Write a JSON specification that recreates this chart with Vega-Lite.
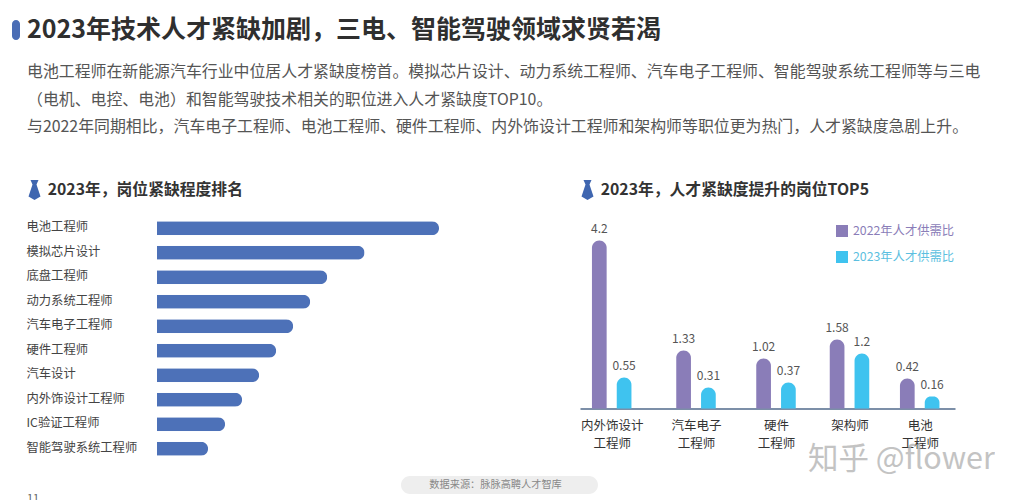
{
"$schema":"https://vega.github.io/schema/vega-lite/v6.json",
"background":"white",
"padding":{"left":12,"top":18,"right":0,"bottom":0},
"config":{"view":{"stroke":null},"font":"Noto Sans CJK SC","text":{"font":"Noto Sans CJK SC"}},
"bounds":"flush",
"columns":2,
"spacing":{"row":0,"column":141},
"concat":[
 {"width":412,"height":20,"data":{"values":[{"t":"2023年技术人才紧缺加剧，三电、智能驾驶领域求贤若渴"}]},
  "layer":[
   {"mark":{"type":"point","filled":true,"size":400,"fill":"#4a6db5","opacity":1,"xOffset":-11,"shape":"M-0.4,-0.6 A0.4,0.4 0 0 1 0.4,-0.6 L0.4,0.6 A0.4,0.4 0 0 1 -0.4,0.6 Z"},
    "encoding":{"x":{"datum":0,"type":"quantitative","scale":{"domain":[0,1]},"axis":null}}},
   {"mark":{"type":"text","align":"left","fontSize":25,"fontWeight":"bold","fill":"#2f2f2f"},
    "encoding":{"x":{"datum":0,"type":"quantitative","scale":{"domain":[0,1]},"axis":null},"text":{"field":"t"}}}
  ]},
 {"width":375,"height":38,"data":{"values":[{"blank":0}]},"mark":{"type":"point","opacity":0},"encoding":{}},
 {"width":412,"height":83,"data":{"values":[
   {"line":1,"t":"电池工程师在新能源汽车行业中位居人才紧缺度榜首。模拟芯片设计、动力系统工程师、汽车电子工程师、智能驾驶系统工程师等与三电"},
   {"line":2,"t":"（电机、电控、电池）和智能驾驶技术相关的职位进入人才紧缺度TOP10。"},
   {"line":3,"t":"与2022年同期相比，汽车电子工程师、电池工程师、硬件工程师、内外饰设计工程师和架构师等职位更为热门，人才紧缺度急剧上升。"}]},
  "mark":{"type":"text","align":"left","fontSize":15.9,"fill":"#555555"},
  "encoding":{"x":{"datum":0,"type":"quantitative","scale":{"domain":[0,1]},"axis":null},
   "y":{"field":"line","type":"ordinal","axis":null},"text":{"field":"t"}}},
 {"width":375,"height":122,"data":{"values":[{"blank":0}]},"mark":{"type":"point","opacity":0},"encoding":{}},
 {"width":412,"height":20,"data":{"values":[{"t":"2023年，岗位紧缺程度排名"}]},
  "layer":[
   {"mark":{"type":"point","filled":true,"size":400,"fill":"#3f66b0","opacity":1,"xOffset":7.5,"shape":"M-0.4,-1 L0.4,-1 L0.2,-0.55 L0.6,0.65 L0,1 L-0.6,0.65 L-0.2,-0.55 Z"},
    "encoding":{"x":{"datum":0,"type":"quantitative","scale":{"domain":[0,1]},"axis":null}}},
   {"mark":{"type":"text","align":"left","dx":20.7,"fontSize":15.8,"fontWeight":"bold","fill":"#333333"},
    "encoding":{"x":{"datum":0,"type":"quantitative","scale":{"domain":[0,1]},"axis":null},"text":{"field":"t"}}}
  ]},
 {"width":375,"height":20,"data":{"values":[{"t":"2023年，人才紧缺度提升的岗位TOP5"}]},
  "layer":[
   {"mark":{"type":"point","filled":true,"size":400,"fill":"#3f66b0","opacity":1,"xOffset":7.5,"shape":"M-0.4,-1 L0.4,-1 L0.2,-0.55 L0.6,0.65 L0,1 L-0.6,0.65 L-0.2,-0.55 Z"},
    "encoding":{"x":{"datum":0,"type":"quantitative","scale":{"domain":[0,1]},"axis":null}}},
   {"mark":{"type":"text","align":"left","dx":20.7,"fontSize":15.8,"fontWeight":"bold","fill":"#333333"},
    "encoding":{"x":{"datum":0,"type":"quantitative","scale":{"domain":[0,1]},"axis":null},"text":{"field":"t"}}}
  ]},
 {"width":412,"height":16,"data":{"values":[{"blank":0}]},"mark":{"type":"point","opacity":0},"encoding":{}},
 {"width":375,"height":16,"data":{"values":[{"blank":0}]},"mark":{"type":"point","opacity":0},"encoding":{}},
 {"width":412,"height":245,"data":{"values":[
   {"job":"电池工程师","score":281.7},{"job":"模拟芯片设计","score":207.3},{"job":"底盘工程师","score":170},{"job":"动力系统工程师","score":153},{"job":"汽车电子工程师","score":136},{"job":"硬件工程师","score":119},{"job":"汽车设计","score":102},{"job":"内外饰设计工程师","score":85},{"job":"IC验证工程师","score":68},{"job":"智能驾驶系统工程师","score":51}]},
  "mark":{"type":"bar","height":14,"cornerRadiusEnd":7,"fill":"#4d71b8"},
  "encoding":{
   "x":{"field":"score","type":"quantitative","axis":null,"scale":{"domain":[0,281.7],"range":[130,412],"nice":false}},
   "y":{"field":"job","type":"nominal","sort":null,"title":null,"axis":{"domain":false,"ticks":false,"labelAlign":"left","labelPadding":1,"labelFontSize":12.3,"labelColor":"#444444","labelFont":"Noto Sans CJK SC","labelOffset":-1,"labelLimit":200}}
  }},
 {"width":375,"height":192.5,
  "data":{"values":[
   {"order":1,"year":"2022年人才供需比","ratio":4.2},{"order":1,"year":"2023年人才供需比","ratio":0.55},
   {"order":2,"year":"2022年人才供需比","ratio":1.33},{"order":2,"year":"2023年人才供需比","ratio":0.31},
   {"order":3,"year":"2022年人才供需比","ratio":1.02},{"order":3,"year":"2023年人才供需比","ratio":0.37},
   {"order":4,"year":"2022年人才供需比","ratio":1.58},{"order":4,"year":"2023年人才供需比","ratio":1.2},
   {"order":5,"year":"2022年人才供需比","ratio":0.42},{"order":5,"year":"2023年人才供需比","ratio":0.16}]},
  "encoding":{
   "x":{"field":"order","type":"quantitative","title":null,
    "scale":{"domain":[0,1,2,3,4,5,6],"range":[0,31.7,116,196,269.5,339.7,375],"nice":false,"zero":false},
    "axis":{"values":[1,2,3,4,5],"ticks":false,"grid":false,"domainColor":"#7c8fa8","domainWidth":2,"labelPadding":11,"labelFontSize":12.5,"labelColor":"#333333","labelFont":"Noto Sans CJK SC","labelLineHeight":18,"labelAngle":0,
     "labelExpr":"[['内外饰设计','工程师'],['汽车电子','工程师'],['硬件','工程师'],['架构师'],['电池','工程师']][datum.value-1]"}},
   "y":{"field":"ratio","type":"quantitative","stack":null,"axis":null,
    "scale":{"domain":[0,0.16,0.31,0.37,0.42,0.55,1.02,1.2,1.33,1.58,4.2],"range":[192.5,180.5,171.5,166.5,162.5,161.5,142.5,137.5,134.5,123.5,24.5],"nice":false,"zero":false}}
  },
  "layer":[
   {"transform":[{"filter":"datum.year=='2022年人才供需比'"}],
    "mark":{"type":"bar","orient":"vertical","width":14.7,"xOffset":-12.4,"cornerRadiusEnd":7.3},
    "encoding":{"color":{"field":"year","type":"nominal","title":null,
      "scale":{"domain":["2022年人才供需比","2023年人才供需比"],"range":["#8a7db8","#3fc3ef"]},
      "legend":{"orient":"none","legendX":808,"legendY":204,"symbolType":"square","symbolSize":144,"symbolOpacity":1,"rowPadding":12,"labelFontSize":12.3,"labelFont":"Noto Sans CJK SC","labelOffset":4,
       "labelColor":{"expr":"datum.label=='2022年人才供需比'?'#8a7db8':'#5cbfe0'"}}}}},
   {"transform":[{"filter":"datum.year=='2023年人才供需比'"}],
    "mark":{"type":"bar","orient":"vertical","width":14.7,"xOffset":12.4,"cornerRadiusEnd":7.3},
    "encoding":{"color":{"field":"year","type":"nominal","title":null,
      "scale":{"domain":["2022年人才供需比","2023年人才供需比"],"range":["#8a7db8","#3fc3ef"]}}}},
   {"transform":[{"filter":"datum.year=='2022年人才供需比'"}],
    "mark":{"type":"text","baseline":"bottom","dy":-5,"dx":-12.4,"fontSize":12,"fill":"#555555"},
    "encoding":{"text":{"field":"ratio","type":"quantitative"}}},
   {"transform":[{"filter":"datum.year=='2023年人才供需比'"}],
    "mark":{"type":"text","baseline":"bottom","dy":-5,"dx":12.4,"fontSize":12,"fill":"#555555"},
    "encoding":{"text":{"field":"ratio","type":"quantitative"}}}
  ]},
 {"width":412,"height":15,"data":{"values":[{"blank":0}]},"mark":{"type":"point","opacity":0},"encoding":{}},
 {"width":375,"height":15,"data":{"values":[{"t":"知乎 @flower"}]},
  "mark":{"type":"text","align":"left","dx":228,"dy":-9,"fontSize":30.5,"fill":"#b5b5b5","opacity":0.8},
  "encoding":{"x":{"datum":0,"type":"quantitative","scale":{"domain":[0,1]},"axis":null},"text":{"field":"t"}}},
 {"width":412,"height":18,"data":{"values":[{"t":"数据来源：脉脉高聘人才智库","p":"11"}]},
  "layer":[
   {"mark":{"type":"bar","fill":"#eeeeee","cornerRadius":9,"height":18},
    "encoding":{"x":{"datum":0,"type":"quantitative","scale":{"domain":[-1.898,1],"range":[0,571],"nice":false,"zero":false},"axis":null},"x2":{"datum":1}}},
   {"mark":{"type":"text","fontSize":10.2,"fill":"#888888"},
    "encoding":{"x":{"datum":0.48,"type":"quantitative","scale":{"domain":[-1.898,1],"range":[0,571],"nice":false,"zero":false},"axis":null},"text":{"field":"t"}}},
   {"mark":{"type":"text","align":"left","baseline":"top","dy":8,"fontSize":11,"fill":"#666666"},
    "encoding":{"x":{"datum":-1.898,"type":"quantitative","scale":{"domain":[-1.898,1],"range":[0,571],"nice":false,"zero":false},"axis":null},"text":{"field":"p"}}}
  ]}
]
}
